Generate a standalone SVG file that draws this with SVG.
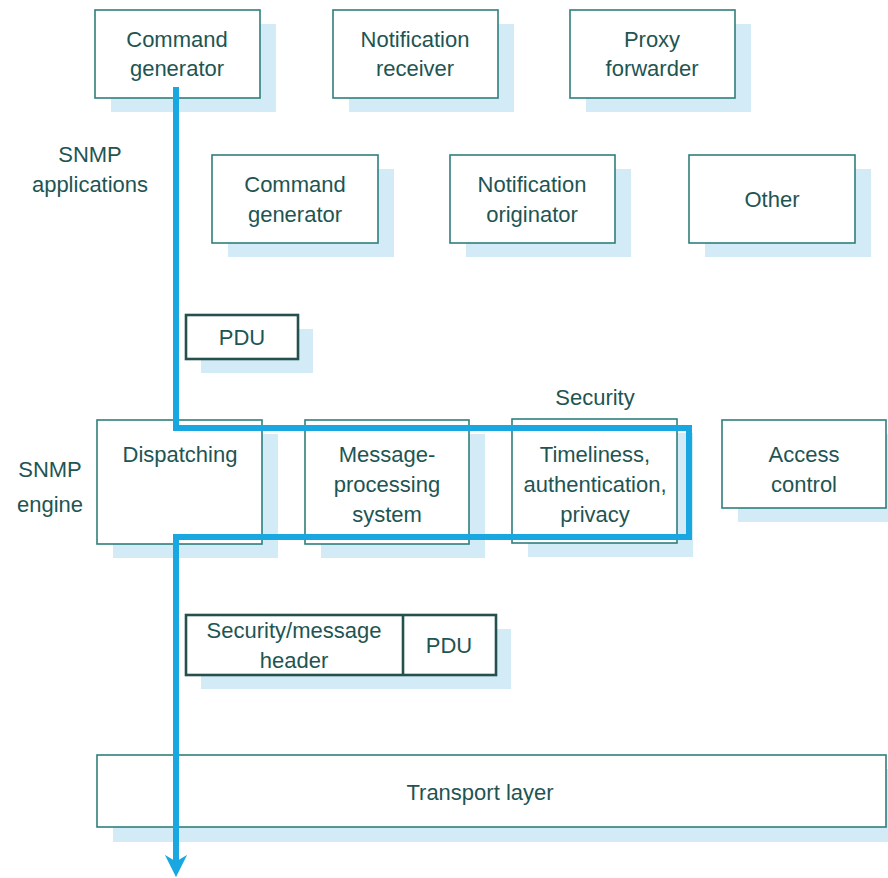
<svg xmlns="http://www.w3.org/2000/svg" width="888" height="878" viewBox="0 0 888 878">
<style>
.sh{fill:#d3eaf7}
.bx{fill:#fff;stroke:#2f7f7c;stroke-width:1.6}
.bk{fill:#fff;stroke:#24504e;stroke-width:2.6}
text{font-family:"Liberation Sans",Arial,sans-serif;font-size:22px;fill:#1e5553;text-anchor:middle}
.fl{fill:none;stroke:#19a7e2;stroke-width:6}
</style>
<defs>
<marker id="ah" viewBox="0 0 10 10" refX="3.2" refY="5" markerWidth="3.7" markerHeight="4.7" orient="auto" markerUnits="strokeWidth">
<path d="M0,0 L10,5 L0,10 L3,5 Z" fill="#19a7e2"/>
</marker>
</defs>
<rect width="888" height="878" fill="#fff"/>
<g id="shadows">
<rect class="sh" x="111" y="24" width="165" height="88"/>
<rect class="sh" x="349" y="24" width="165" height="88"/>
<rect class="sh" x="586" y="24" width="165" height="88"/>
<rect class="sh" x="228" y="169" width="166" height="88"/>
<rect class="sh" x="466" y="169" width="165" height="88"/>
<rect class="sh" x="705" y="169" width="166" height="88"/>
<rect class="sh" x="201" y="329" width="112" height="44"/>
<rect class="sh" x="113" y="434" width="165" height="124"/>
<rect class="sh" x="321" y="434" width="164" height="124"/>
<rect class="sh" x="528" y="433" width="165" height="124"/>
<rect class="sh" x="738" y="434" width="150" height="88"/>
<rect class="sh" x="201" y="629" width="310" height="60"/>
<rect class="sh" x="113" y="769" width="775" height="73"/>
</g>
<g id="cmdgen1"><rect class="bx" x="95" y="10" width="165" height="88"/><text x="177" y="47">Command</text><text x="177" y="76">generator</text></g>
<g id="notifrecv"><rect class="bx" x="333" y="10" width="165" height="88"/><text x="415" y="47">Notification</text><text x="415" y="76">receiver</text></g>
<g id="proxy"><rect class="bx" x="570" y="10" width="165" height="88"/><text x="652" y="47">Proxy</text><text x="652" y="76">forwarder</text></g>
<g id="apps-label"><text x="90" y="162">SNMP</text><text x="90" y="192">applications</text></g>
<g id="cmdgen2"><rect class="bx" x="212" y="155" width="166" height="88"/><text x="295" y="192">Command</text><text x="295" y="222">generator</text></g>
<g id="notiforig"><rect class="bx" x="450" y="155" width="165" height="88"/><text x="532" y="192">Notification</text><text x="532" y="222">originator</text></g>
<g id="other"><rect class="bx" x="689" y="155" width="166" height="88"/><text x="772" y="207">Other</text></g>
<g id="pdu1"><rect class="bk" x="186" y="315" width="112" height="44"/><text x="242" y="345">PDU</text></g>
<g id="engine-label"><text x="50" y="477">SNMP</text><text x="50" y="512">engine</text></g>
<g id="dispatching"><rect class="bx" x="97" y="420" width="165" height="124"/><text x="180" y="462">Dispatching</text></g>
<g id="mps"><rect class="bx" x="305" y="420" width="164" height="124"/><text x="387" y="462">Message-</text><text x="387" y="492">processing</text><text x="387" y="522">system</text></g>
<g id="security-label"><text x="595" y="405">Security</text></g>
<g id="timeliness"><rect class="bx" x="512" y="419" width="165" height="124"/><text x="595" y="462">Timeliness,</text><text x="595" y="492">authentication,</text><text x="595" y="522">privacy</text></g>
<g id="access"><rect class="bx" x="722" y="420" width="164" height="88"/><text x="804" y="462">Access</text><text x="804" y="492">control</text></g>
<g id="msgheader"><rect class="bk" x="186" y="615" width="310" height="60"/><line x1="403" y1="615" x2="403" y2="675" stroke="#24504e" stroke-width="2.6"/><text x="294" y="638">Security/message</text><text x="294" y="668">header</text><text x="449" y="653">PDU</text></g>
<g id="transport"><rect class="bx" x="97" y="755" width="789" height="72"/><text x="480" y="800">Transport layer</text></g>
<g id="connectors">
<path class="fl" d="M176,87 V428 H689 V537 H176 V862" marker-end="url(#ah)"/>
</g>
</svg>
